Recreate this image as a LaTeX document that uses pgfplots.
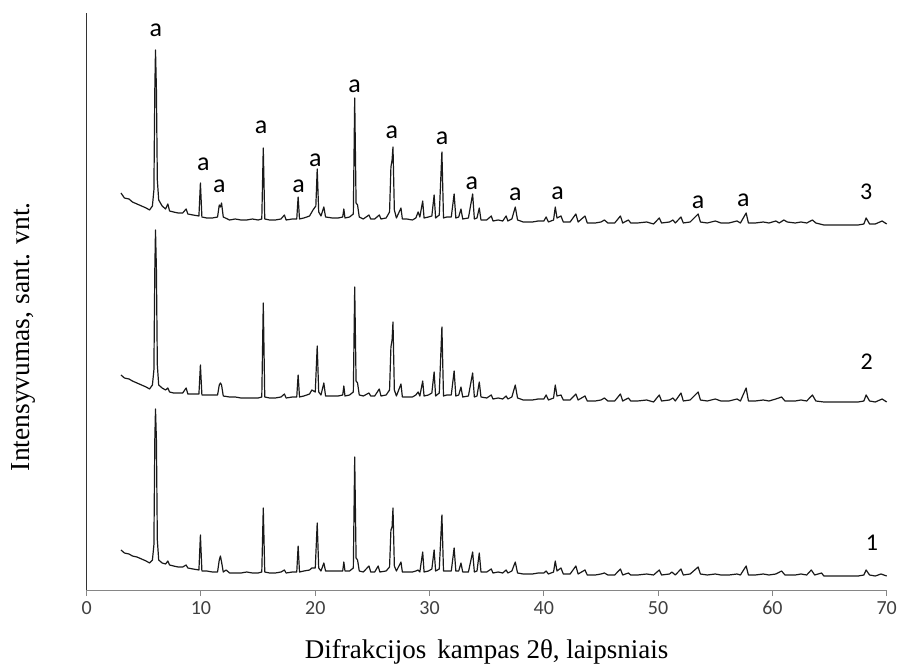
\documentclass[border=0pt]{standalone}
\usepackage{pgfplots}
\pgfplotsset{compat=1.18}
\usepackage{fontspec}
\setmainfont{Liberation Serif}
\newfontfamily\calibri{Carlito}
\definecolor{axgray}{RGB}{134,134,134}
\definecolor{ticktxt}{RGB}{64,64,64}
\begin{document}
\begin{tikzpicture}
\useasboundingbox (-86.7bp,-74bp) rectangle (814.3bp,590bp);
\begin{axis}[
  scale only axis,
  width=800bp, height=577bp,
  xmin=0, xmax=70, ymin=0, ymax=577,
  axis x line*=bottom, axis y line*=left,
  x axis line style={axgray, line width=1bp, -},
  y axis line style={black!80, line width=1bp, -},
  xtick={0,10,...,70}, ytick=\empty,
  tick align=outside,
  major tick length=6bp,
  xtick style={axgray, line width=1bp},
  xticklabel style={font=\calibri\fontsize{20bp}{24bp}\selectfont, text=ticktxt, /pgf/number format/assume math mode=true, inner sep=0pt, anchor=north, yshift=-5bp},
  clip=false,
  every axis x label/.style={at={(axis description cs:0.5,0)}, anchor=base, yshift=-68bp, font=\fontsize{27bp}{32bp}\selectfont},
  every axis y label/.style={at={(axis description cs:0,0.439)}, xshift=-63.7bp, rotate=90, anchor=center, font=\fontsize{27.5bp}{32bp}\selectfont},
  xlabel={Difrakcijos\hspace{0.4em}kampas 2θ, laipsniais},
  ylabel={Intensyvumas, sant. vnt.},
]
% series 3
\addplot[black!90, line width=1.2bp, line join=round] coordinates {
(3.0,397)(3.3,392)(3.7,391)(4.0,388)(4.4,386)(4.8,384)(5.2,382)(5.5,380)(5.75,384)(5.88,400)(5.96,500)(6.02,540)(6.1,500)(6.18,410)(6.3,390)(6.6,384)(6.9,381)(7.1,386)(7.25,379)(7.6,378)(8.0,377)(8.4,377)(8.7,381)(8.85,376)(9.3,375)(9.82,374)(9.95,407)(10.08,373)(10.5,372)(11.0,372)(11.45,373)(11.6,385)(11.7,383)(11.8,387)(11.95,373)(12.5,370)(13.0,371)(13.5,370)(14.0,370)(14.5,371)(15.0,370)(15.32,371)(15.45,442)(15.58,371)(16.0,370)(16.5,370)(17.0,371)(17.3,375)(17.45,370)(18.0,371)(18.38,371)(18.5,393)(18.62,371)(19.0,372)(19.5,374)(19.8,380)(20.05,384)(20.17,421)(20.3,378)(20.5,374)(20.75,383)(20.9,373)(21.5,372)(22.0,372)(22.4,373)(22.5,381)(22.6,372)(23.0,373)(23.33,376)(23.45,492)(23.57,387)(23.7,385)(23.85,373)(24.2,371)(24.7,375)(24.85,371)(25.2,371)(25.6,375)(25.75,371)(26.2,372)(26.5,378)(26.62,423)(26.72,430)(26.8,443)(26.92,380)(27.1,372)(27.5,382)(27.62,371)(28.0,371)(28.5,370)(28.8,372)(29.0,378)(29.15,373)(29.4,389)(29.52,372)(29.9,373)(30.2,374)(30.4,395)(30.53,372)(30.85,375)(31.08,438)(31.22,372)(31.5,373)(31.9,373)(32.15,396)(32.3,372)(32.55,373)(32.75,381)(32.9,371)(33.4,372)(33.77,396)(33.92,371)(34.15,372)(34.35,382)(34.5,370)(35.0,370)(35.4,374)(35.55,369)(36.0,370)(36.4,369)(36.7,374)(36.85,369)(37.2,371)(37.5,383)(37.7,370)(38.2,368)(39.0,368)(39.5,369)(40.0,369)(40.2,373)(40.4,368)(40.85,370)(41.0,383)(41.15,372)(41.5,374)(41.7,368)(42.3,368)(42.8,376)(43.0,368)(43.6,374)(43.8,367)(44.5,367)(45.0,368)(45.3,370)(45.6,367)(46.2,367)(46.7,374)(46.9,367)(47.4,370)(47.6,367)(48.2,367)(49.0,368)(49.6,366)(50.1,372)(50.3,367)(51.0,368)(51.3,370)(51.5,367)(52.0,373)(52.2,367)(52.8,368)(53.5,376)(53.7,368)(54.3,367)(55.0,369)(55.5,367)(56.2,367)(56.9,369)(57.2,367)(57.7,377)(57.9,367)(58.5,367)(59.2,368)(59.7,367)(60.3,369)(60.6,367)(61.0,370)(61.3,368)(62.0,367)(62.5,368)(63.0,367)(63.5,370)(63.8,367)(64.5,365)(65.5,365)(66.5,365)(67.5,365)(68.0,366)(68.2,372)(68.5,366)(69.0,366)(69.6,369)(70.0,366)
};
% series 2
\addplot[black!90, line width=1.2bp, line join=round] coordinates {
(3.0,215)(3.3,212)(3.7,211)(4.0,209)(4.4,207)(4.8,205)(5.2,203)(5.5,201)(5.75,205)(5.88,220)(5.96,320)(6.02,360)(6.1,320)(6.18,225)(6.3,205)(6.6,202)(6.9,200)(7.1,202)(7.25,198)(7.6,197)(8.0,197)(8.4,197)(8.7,202)(8.85,196)(9.3,196)(9.82,196)(9.95,225)(10.08,195)(10.5,195)(11.0,195)(11.45,195)(11.6,205)(11.7,207)(11.8,205)(11.95,194)(12.5,193)(13.0,193)(13.5,192)(14.0,192)(14.5,192)(15.0,192)(15.32,193)(15.45,287)(15.58,193)(16.0,192)(16.5,192)(17.0,193)(17.3,196)(17.45,192)(18.0,193)(18.38,193)(18.5,215)(18.62,193)(19.0,194)(19.5,196)(19.7,200)(20.0,198)(20.17,244)(20.3,198)(20.5,195)(20.75,207)(20.9,194)(21.5,194)(22.0,194)(22.4,195)(22.5,204)(22.6,194)(23.0,195)(23.33,198)(23.45,303)(23.57,209)(23.7,207)(23.85,195)(24.2,194)(24.7,197)(24.85,194)(25.2,194)(25.6,201)(25.75,194)(26.2,195)(26.5,200)(26.62,243)(26.72,250)(26.8,268)(26.92,200)(27.1,194)(27.5,206)(27.62,193)(28.0,193)(28.5,193)(28.8,195)(29.0,198)(29.15,194)(29.4,209)(29.52,194)(29.9,195)(30.2,197)(30.4,218)(30.53,194)(30.85,197)(31.08,263)(31.22,194)(31.5,195)(31.9,195)(32.15,219)(32.3,194)(32.55,195)(32.75,203)(32.9,193)(33.4,194)(33.77,217)(33.92,193)(34.15,194)(34.35,208)(34.5,193)(35.0,192)(35.4,195)(35.55,191)(36.0,192)(36.4,191)(36.7,194)(36.85,191)(37.2,193)(37.5,205)(37.7,192)(38.2,190)(39.0,190)(39.5,191)(40.0,191)(40.2,195)(40.4,190)(40.85,192)(41.0,205)(41.15,194)(41.5,195)(41.7,190)(42.3,190)(42.8,196)(43.0,190)(43.6,194)(43.8,189)(44.5,189)(45.0,190)(45.3,192)(45.6,189)(46.2,189)(46.7,196)(46.9,189)(47.4,192)(47.6,189)(48.2,189)(49.0,190)(49.6,188)(50.1,195)(50.3,189)(51.0,190)(51.3,192)(51.5,189)(52.0,197)(52.2,189)(52.8,190)(53.5,198)(53.7,190)(54.3,189)(55.0,191)(55.5,189)(56.2,189)(56.9,191)(57.2,189)(57.7,202)(57.9,189)(58.5,189)(59.2,190)(59.7,189)(60.3,191)(60.8,193)(61.1,189)(62.0,189)(62.5,190)(63.0,189)(63.5,195)(63.8,189)(64.5,188)(65.5,188)(66.5,188)(67.5,188)(68.0,189)(68.2,195)(68.5,189)(69.0,188)(69.6,191)(70.0,188)
};
% series 1
\addplot[black!90, line width=1.2bp, line join=round] coordinates {
(3.0,40)(3.3,37)(3.7,36)(4.0,34)(4.4,33)(4.8,31)(5.2,29)(5.5,27)(5.75,30)(5.88,45)(5.96,150)(6.02,181)(6.1,150)(6.18,50)(6.3,30)(6.6,27)(6.9,26)(7.1,29)(7.25,25)(7.6,24)(8.0,23)(8.4,23)(8.7,25)(8.85,22)(9.3,21)(9.82,20)(9.95,55)(10.08,19)(10.5,19)(11.0,18)(11.45,18)(11.6,30)(11.7,34)(11.8,28)(11.95,18)(12.2,20)(12.5,17)(13.0,17)(13.5,17)(14.0,18)(14.5,17)(15.0,17)(15.32,18)(15.45,82)(15.58,18)(16.0,17)(16.5,17)(17.0,18)(17.3,20)(17.45,17)(18.0,18)(18.38,18)(18.5,44)(18.62,18)(19.0,19)(19.5,20)(19.7,22)(20.0,22)(20.17,67)(20.3,22)(20.5,19)(20.75,27)(20.9,19)(21.5,19)(22.0,19)(22.4,19)(22.5,28)(22.6,19)(23.0,19)(23.33,22)(23.45,133)(23.57,32)(23.7,30)(23.85,19)(24.2,18)(24.7,24)(24.85,18)(25.2,18)(25.5,24)(25.65,18)(26.2,19)(26.5,23)(26.62,60)(26.72,63)(26.8,82)(26.92,24)(27.1,19)(27.5,28)(27.62,18)(28.0,18)(28.5,18)(28.8,19)(29.0,20)(29.15,18)(29.4,38)(29.52,18)(29.9,19)(30.2,21)(30.4,40)(30.53,19)(30.85,21)(31.08,75)(31.22,19)(31.5,19)(31.9,19)(32.15,42)(32.3,19)(32.55,19)(32.75,27)(32.9,18)(33.4,18)(33.77,38)(33.92,18)(34.15,19)(34.35,37)(34.5,18)(35.0,18)(35.4,21)(35.55,17)(36.0,18)(36.4,17)(36.7,20)(36.85,17)(37.2,19)(37.5,28)(37.7,17)(38.2,16)(39.0,16)(39.5,17)(40.0,17)(40.2,19)(40.4,16)(40.85,18)(41.0,29)(41.15,19)(41.5,22)(41.7,16)(42.3,16)(42.8,24)(43.0,16)(43.6,20)(43.8,15)(44.5,15)(45.0,16)(45.3,17)(45.6,15)(46.2,15)(46.7,21)(46.9,15)(47.4,17)(47.6,15)(48.2,15)(49.0,16)(49.6,15)(50.1,20)(50.3,15)(51.0,16)(51.2,18)(51.5,15)(52.0,21)(52.2,15)(52.8,16)(53.5,23)(53.7,16)(54.3,15)(55.0,16)(55.5,15)(56.2,15)(56.9,16)(57.2,15)(57.7,24)(57.9,15)(58.5,15)(59.2,16)(59.7,15)(60.3,16)(60.8,19)(61.1,15)(62.0,15)(62.5,16)(63.0,15)(63.4,20)(63.7,15)(64.3,17)(64.5,14)(65.5,14)(66.5,14)(67.5,14)(68.0,15)(68.2,20)(68.5,15)(69.0,14)(69.5,16)(70.0,14)
};
% labels
\begin{scope}[every node/.style={font=\calibri\fontsize{26bp}{30bp}\selectfont, inner sep=0pt}]
\node at (axis cs:6.04,560) {a};
\node at (axis cs:10.2,426) {a};
\node at (axis cs:11.6,404) {a};
\node at (axis cs:15.27,463) {a};
\node at (axis cs:18.55,404) {a};
\node at (axis cs:20.0,430) {a};
\node at (axis cs:23.45,504) {a};
\node at (axis cs:26.7,458) {a};
\node at (axis cs:31.1,452) {a};
\node at (axis cs:33.7,407) {a};
\node at (axis cs:37.5,396) {a};
\node at (axis cs:41.2,397) {a};
\node at (axis cs:53.5,388) {a};
\node at (axis cs:57.45,390) {a};
\end{scope}
\begin{scope}[every node/.style={font=\calibri\fontsize{24bp}{28bp}\selectfont, inner sep=0pt}]
\node at (axis cs:68.2,398) {3};
\node at (axis cs:68.25,228) {2};
\node at (axis cs:68.7,47) {1};
\end{scope}
\end{axis}
\end{tikzpicture}
\end{document}
